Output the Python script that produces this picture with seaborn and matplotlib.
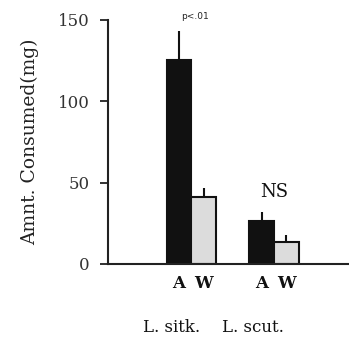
import matplotlib
matplotlib.use("Agg")
import matplotlib.pyplot as plt
import matplotlib.transforms as mt
import seaborn as sns
import pandas as pd

species = ["L. sitk.", "L. scut."]
diets = ["A", "W"]
values_A = [125.2, 26.6]
values_W = [41.0, 13.7]
err_A = [18.0, 5.5]
err_W = [5.5, 3.9]
yticks = [0, 50, 100, 150]

sns.set_style("ticks")
plt.rcParams['font.family'] = ['DejaVu Serif']

df = pd.DataFrame({
    "species": species * 2,
    "diet": ["A"] * 2 + ["W"] * 2,
    "value": values_A + values_W,
})

fig = plt.figure(figsize=(3.49, 3.40), dpi=100)
ax = fig.add_axes([108/349, 76/340, 241/349, 244/340])
sns.barplot(data=df, x="species", y="value", hue="diet", order=species,
            hue_order=diets, palette={"A": "#111111", "W": "#dcdcdc"},
            width=0.6, errorbar=None, edgecolor="#111111", linewidth=1.5,
            legend=False, ax=ax)

errs = {"A": err_A, "W": err_W}
vals = {"A": values_A, "W": values_W}
centers = []
labels = []
for cont, d in zip(ax.containers, diets):
    for i, p in enumerate(cont.patches):
        cx = p.get_x() + p.get_width() / 2
        centers.append(cx)
        labels.append(d)
        ax.errorbar(cx, vals[d][i], yerr=[[0], [errs[d][i]]], fmt="none",
                    ecolor="#111111", elinewidth=1.5, capsize=0, zorder=1)

ax.set_ylim(0, 150)
ax.set_xlim(-1.012, 1.909)
ax.set_yticks(yticks)
ax.set_yticklabels([str(t) for t in yticks], fontsize=12, color="#333333")
ax.set_xticks(centers)
ax.set_xticklabels(labels, fontsize=12, fontweight="bold", color="#111111")
ax.tick_params(axis="x", length=0, pad=8)
ax.tick_params(axis="y", length=6, width=1.3, color="#222222", pad=7)
ax.set_xlabel("")
ax.set_ylabel("Amnt. Consumed(mg)", fontsize=13.5, color="#222222", labelpad=14)
for s in ["top", "right"]:
    ax.spines[s].set_visible(False)
for s in ["left", "bottom"]:
    ax.spines[s].set_linewidth(1.5)
    ax.spines[s].set_color("#222222")

ax.text(1.0, 44, "NS", ha="center", va="center", fontsize=13, color="#111111")
ax.text(0.04, 152.0, "p<.01", ha="center", va="center", fontsize=6.5,
        family="DejaVu Sans", color="#222222", clip_on=False)

trans = mt.blended_transform_factory(ax.transData, fig.transFigure)
ax.text(-0.236, 13/340, "L. sitk.", ha="center", va="center", fontsize=12,
        transform=trans, color="#111111")
ax.text(0.745, 13/340, "L. scut.", ha="center", va="center", fontsize=12,
        transform=trans, color="#111111")

fig.savefig("out.png", dpi=100)
